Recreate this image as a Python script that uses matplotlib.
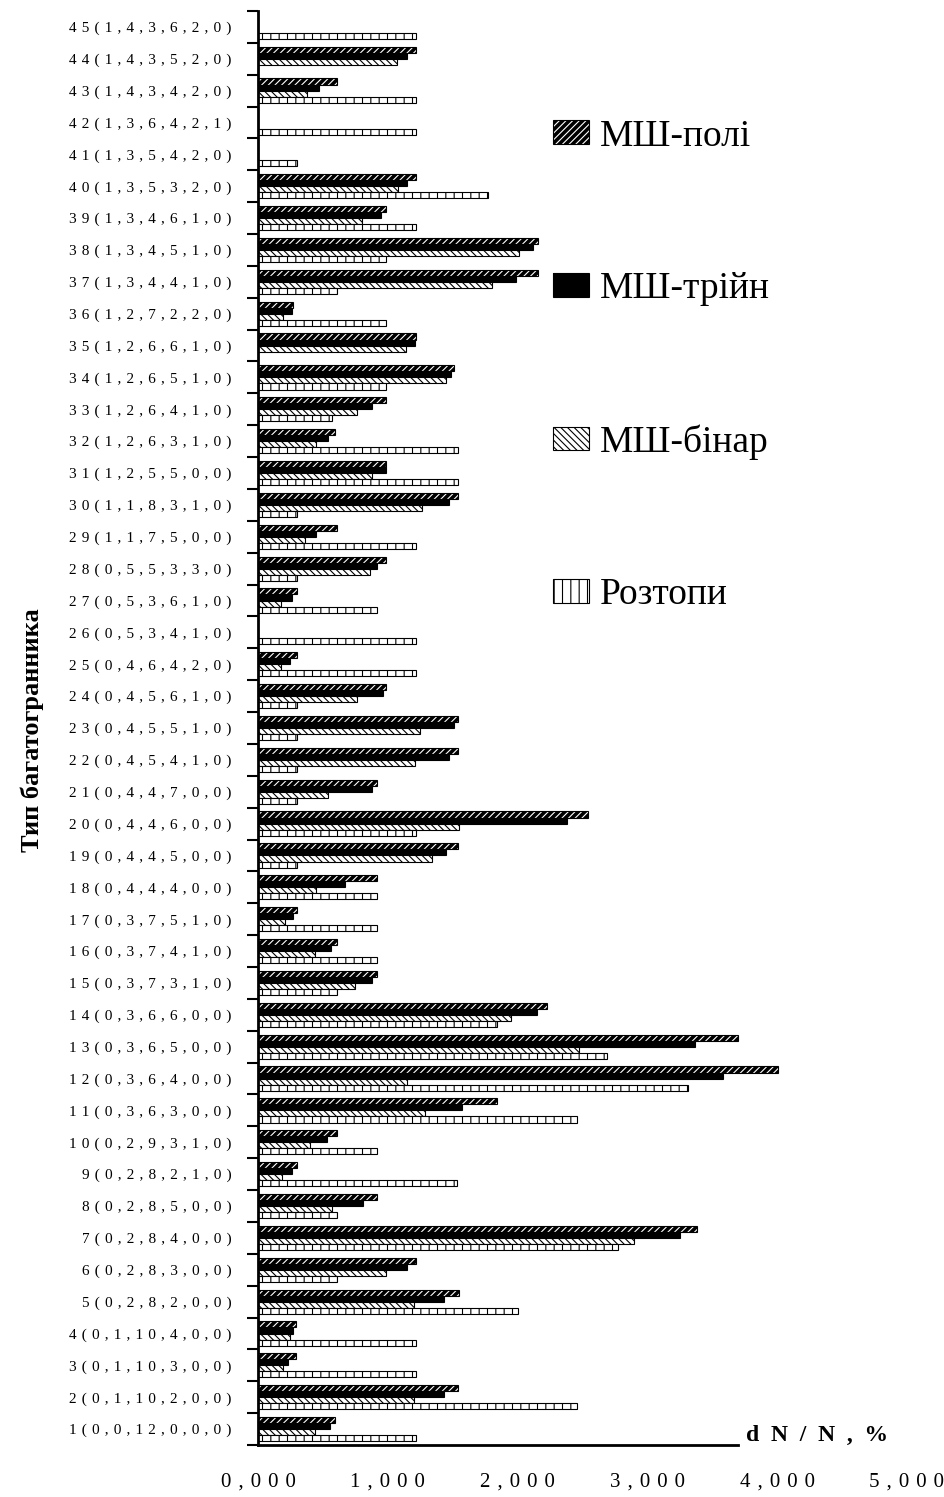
import numpy as np
import matplotlib.pyplot as plt
from matplotlib.patches import Patch
from matplotlib.legend_handler import HandlerTuple

plt.rcParams['font.family'] = ['Liberation Serif', 'DejaVu Serif']
plt.rcParams['hatch.linewidth'] = 0.8

# polyhedron types: number and composition
type_ids = list(range(1, 46))
compositions = [
    "0,0,12,0,0,0", "0,1,10,2,0,0", "0,1,10,3,0,0", "0,1,10,4,0,0", "0,2,8,2,0,0",
    "0,2,8,3,0,0", "0,2,8,4,0,0", "0,2,8,5,0,0", "0,2,8,2,1,0", "0,2,9,3,1,0",
    "0,3,6,3,0,0", "0,3,6,4,0,0", "0,3,6,5,0,0", "0,3,6,6,0,0", "0,3,7,3,1,0",
    "0,3,7,4,1,0", "0,3,7,5,1,0", "0,4,4,4,0,0", "0,4,4,5,0,0", "0,4,4,6,0,0",
    "0,4,4,7,0,0", "0,4,5,4,1,0", "0,4,5,5,1,0", "0,4,5,6,1,0", "0,4,6,4,2,0",
    "0,5,3,4,1,0", "0,5,3,6,1,0", "0,5,5,3,3,0", "1,1,7,5,0,0", "1,1,8,3,1,0",
    "1,2,5,5,0,0", "1,2,6,3,1,0", "1,2,6,4,1,0", "1,2,6,5,1,0", "1,2,6,6,1,0",
    "1,2,7,2,2,0", "1,3,4,4,1,0", "1,3,4,5,1,0", "1,3,4,6,1,0", "1,3,5,3,2,0",
    "1,3,5,4,2,0", "1,3,6,4,2,1", "1,4,3,4,2,0", "1,4,3,5,2,0", "1,4,3,6,2,0",
]

# dN/N, % (types 1..45)
ms_poly = [0.59, 1.54, 0.295, 0.295, 1.545, 1.22, 3.385, 0.92, 0.30, 0.61,
           1.84, 4.01, 3.695, 2.23, 0.92, 0.61, 0.30, 0.92, 1.54, 2.54,
           0.92, 1.54, 1.54, 0.99, 0.30, 0.0, 0.30, 0.99, 0.61, 1.54,
           0.99, 0.59, 0.99, 1.51, 1.22, 0.27, 2.155, 2.155, 0.99, 1.22,
           0.0, 0.0, 0.61, 1.22, 0.0]
ms_tern = [0.555, 1.43, 0.23, 0.27, 1.43, 1.145, 3.25, 0.81, 0.26, 0.53,
           1.575, 3.58, 3.37, 2.15, 0.88, 0.56, 0.27, 0.67, 1.45, 2.38,
           0.875, 1.47, 1.51, 0.96, 0.245, 0.0, 0.26, 0.92, 0.45, 1.475,
           0.99, 0.54, 0.88, 1.49, 1.21, 0.26, 1.99, 2.12, 0.95, 1.15,
           0.0, 0.0, 0.47, 1.15, 0.0]
ms_bin = [0.44, 1.20, 0.19, 0.245, 1.20, 0.99, 2.90, 0.57, 0.185, 0.40,
          1.29, 1.146, 2.47, 1.95, 0.745, 0.44, 0.21, 0.45, 1.34, 1.545,
          0.54, 1.21, 1.25, 0.76, 0.175, 0.0, 0.175, 0.86, 0.36, 1.265,
          0.875, 0.445, 0.76, 1.45, 1.14, 0.19, 1.80, 2.01, 0.80, 1.08,
          0.0, 0.0, 0.38, 1.07, 0.0]
melts = [1.22, 2.46, 1.22, 1.22, 2.00, 0.605, 2.77, 0.61, 1.535, 0.915,
         2.46, 3.31, 2.69, 1.84, 0.61, 0.92, 0.92, 0.92, 0.30, 1.22,
         0.30, 0.30, 0.30, 0.30, 1.22, 1.22, 0.92, 0.30, 1.22, 0.30,
         1.54, 1.54, 0.57, 0.99, 0.0, 0.99, 0.61, 0.99, 1.22, 1.77,
         0.30, 1.22, 1.22, 0.0, 1.22]

x_ticks = [0, 1, 2, 3, 4, 5]


def spaced(s, gap=" \u200a"):
    return gap.join(s)


fig = plt.figure(figsize=(9.44, 14.97), dpi=100)
ax = fig.add_axes([0.2733, 0.0347, 0.6875, 0.958])

y = np.array(type_ids, dtype=float)
h = 0.19

# series: values, label, facecolor, hatch, hatch colour, offset
series = [
    (ms_poly, 'МШ-полі', 'black', '/////', 'white', 1.5 * h),
    (ms_tern, 'МШ-трійн', 'black', None, 'black', 0.5 * h),
    (ms_bin, 'МШ-бінар', 'white', '\\\\\\\\\\', 'black', -0.5 * h),
    (melts, 'Розтопи', 'white', '||', 'black', -1.5 * h),
]

handles = []
labels = []
for vals, lab, fc, hatch, hc, off in series:
    with plt.rc_context({'hatch.color': hc}):
        ax.barh(y + off, vals, h, color=fc, hatch=hatch, linewidth=0)
        fill_proxy = Patch(facecolor=fc, hatch=hatch, linewidth=0)
    ax.barh(y + off, vals, h, fill=False, edgecolor='black', linewidth=0.8)
    handles.append((fill_proxy, Patch(fill=False, edgecolor='black', linewidth=0.8)))
    labels.append(lab)

ax.set_xlim(0, 5)
ax.set_ylim(0.5, 45.5)

ax.set_yticks(y)
ax.set_yticklabels([spaced(f"{i}({c})") for i, c in zip(type_ids, compositions)])
ax.set_yticks(np.arange(0.5, 46, 1.0), minor=True)
ax.tick_params(axis='y', which='major', length=0, pad=19, labelsize=11)
ax.tick_params(axis='y', which='minor', length=8, width=1.5, direction='out')

ax.set_xticks(x_ticks)
ax.set_xticklabels([spaced(f"{v:.3f}".replace('.', ',')) for v in x_ticks])
ax.set_xticks([0, 1, 2, 3], minor=True)
ax.tick_params(axis='x', which='major', length=0, pad=20, labelsize=15)
ax.tick_params(axis='x', which='minor', length=6, width=1.5, direction='out')

for s in ['top', 'right']:
    ax.spines[s].set_visible(False)
ax.spines['left'].set_linewidth(2)
ax.spines['bottom'].set_linewidth(2)
ax.spines['bottom'].set_bounds(0, 3.7)

ax.text(3.76, 0.62, 'd  N  /  N  ,  %', ha='left', va='baseline',
        fontsize=17, fontweight='bold')
fig.text(0.034, 0.512, 'Тип багатогранника', rotation=90, ha='center', va='center',
         fontsize=19, fontweight='bold')

ax.legend(handles, labels, handler_map={tuple: HandlerTuple(ndivide=1, pad=0)},
          loc='upper left', bbox_to_anchor=(553 / 944, 1 - 119 / 1497),
          bbox_transform=fig.transFigure, frameon=False, fontsize=27,
          handlelength=0.95, handleheight=0.6, handletextpad=0.3,
          labelspacing=3.15, borderpad=0, borderaxespad=0)

fig.savefig('out.png', dpi=100)
